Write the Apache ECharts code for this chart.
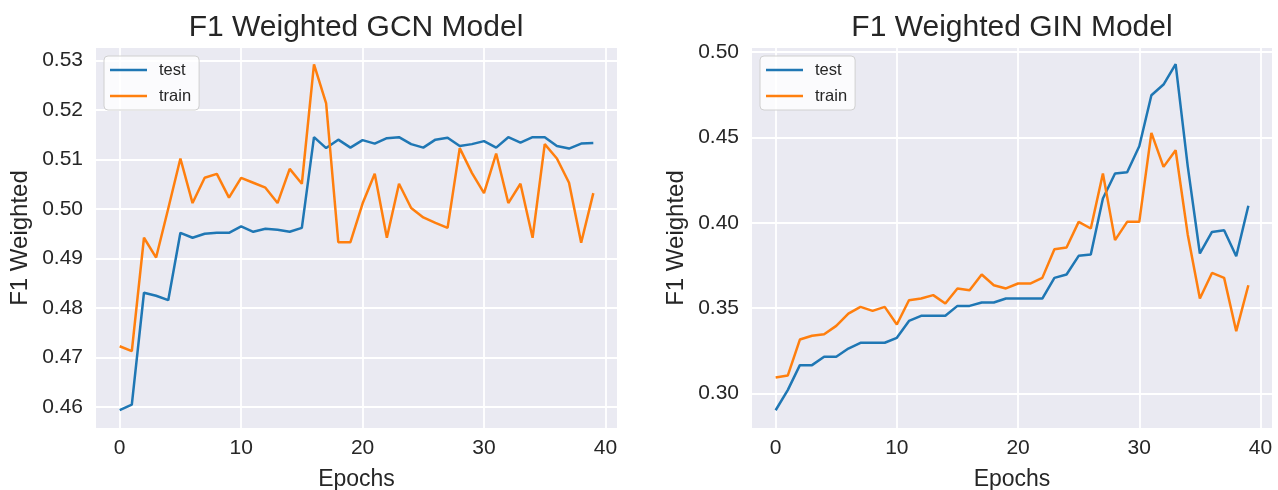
<!DOCTYPE html>
<html>
<head>
<meta charset="utf-8">
<script src="https://cdn.jsdelivr.net/npm/echarts@6/dist/echarts.min.js"></script>
<style>
html,body{margin:0;padding:0;background:#fff;}
#chart{width:1278px;height:490px;}
</style>
</head>
<body>
<div id="chart"></div>
<script>
// ---- data ----
const epochs = [0,1,2,3,4,5,6,7,8,9,10,11,12,13,14,15,16,17,18,19,20,21,22,23,24,25,26,27,28,29,30,31,32,33,34,35,36,37,38,39];

const gcnTest = [0.4594,0.4605,0.4831,0.4825,0.4816,0.4952,0.4942,0.4950,0.4952,0.4952,
                 0.4965,0.4954,0.4960,0.4958,0.4954,0.4962,0.5145,0.5123,0.5140,0.5124,
                 0.5139,0.5132,0.5143,0.5145,0.5131,0.5124,0.5140,0.5144,0.5127,0.5131,
                 0.5137,0.5124,0.5145,0.5134,0.5145,0.5145,0.5127,0.5122,0.5132,0.5133];
const gcnTrain = [0.4723,0.4713,0.4942,0.4902,0.5001,0.5102,0.5012,0.5063,0.5071,0.5023,
                  0.5063,0.5053,0.5043,0.5012,0.5081,0.5051,0.5292,0.5213,0.4933,0.4933,
                  0.5011,0.5071,0.4942,0.5051,0.5002,0.4983,0.4972,0.4962,0.5123,0.5073,
                  0.5032,0.5112,0.5012,0.5051,0.4942,0.5131,0.5102,0.5053,0.4932,0.5032];

const ginTest = [0.2902,0.3020,0.3166,0.3166,0.3215,0.3215,0.3263,0.3297,0.3297,0.3297,
                 0.3326,0.3425,0.3455,0.3455,0.3455,0.3513,0.3513,0.3533,0.3533,0.3556,
                 0.3556,0.3556,0.3556,0.3677,0.3697,0.3806,0.3814,0.4142,0.4288,0.4296,
                 0.4448,0.4746,0.4809,0.4928,0.4330,0.3820,0.3946,0.3956,0.3804,0.4099];
const ginTrain = [0.3094,0.3105,0.3316,0.3338,0.3347,0.3396,0.3468,0.3507,0.3484,0.3507,
                  0.3404,0.3546,0.3556,0.3576,0.3527,0.3615,0.3605,0.3697,0.3634,0.3615,
                  0.3644,0.3644,0.3677,0.3845,0.3855,0.4005,0.3966,0.4288,0.3898,0.4005,
                  0.4005,0.4526,0.4327,0.4424,0.3930,0.3556,0.3706,0.3677,0.3365,0.3634];

const xTicks = [0,10,20,30,40];
const gcnYTicks = [0.46,0.47,0.48,0.49,0.50,0.51,0.52,0.53];
const ginYTicks = [0.30,0.35,0.40,0.45,0.50];

const titles = ['F1 Weighted GCN Model','F1 Weighted GIN Model'];
const seriesNames = ['test','train'];
const xName = 'Epochs';
const yName = 'F1 Weighted';

// ---- chart ----
const TEXT = '#262626';
const FONT = '"Liberation Sans", Arial, sans-serif';
const pairs = (ys) => epochs.map((e, i) => [e, ys[i]]);

function xAxisOpt(gi){
  return {
    type:'value', gridIndex:gi, min:-1.95, max:40.95,
    name:xName, nameLocation:'middle', nameGap:40,
    nameTextStyle:{color:TEXT, fontSize:23, fontFamily:FONT},
    axisLine:{show:false},
    axisTick:{show:false, customValues:xTicks},
    axisLabel:{customValues:xTicks, color:TEXT, fontSize:21, fontFamily:FONT, margin:10},
    splitLine:{show:true, lineStyle:{color:'#ffffff', width:1.8}}
  };
}
function yAxisOpt(gi, min, max, ticks){
  return {
    type:'value', gridIndex:gi, min:min, max:max,
    name:yName, nameLocation:'middle', nameGap:64, nameRotate:90,
    nameTextStyle:{color:TEXT, fontSize:24, fontFamily:FONT},
    axisLine:{show:false},
    axisTick:{show:false, customValues:ticks},
    axisLabel:{customValues:ticks, color:TEXT, fontSize:21, fontFamily:FONT, margin:13,
               formatter:(v)=>v.toFixed(2)},
    splitLine:{show:true, lineStyle:{color:'#ffffff', width:1.8}}
  };
}
function legendOpt(left){
  return {
    orient:'vertical', left:left, top:56,
    data:seriesNames,
    icon:'path://M0,0h37v2.4h-37z',
    itemWidth:37, itemHeight:2.4, itemGap:8,
    padding:[5,8,5,6],
    backgroundColor:'rgba(255,255,255,0.8)',
    borderColor:'#d0d0d0', borderWidth:1, borderRadius:4,
    textStyle:{color:TEXT, fontSize:16.5, fontFamily:FONT, lineHeight:18, padding:[0,0,0,7]}
  };
}
function lineSeries(name, data, color, xi){
  return {
    type:'line', name:name, xAxisIndex:xi, yAxisIndex:xi,
    data:pairs(data), showSymbol:false, symbol:'none',
    lineStyle:{color:color, width:2.5}, itemStyle:{color:color},
    z:3
  };
}

const chart = echarts.init(document.getElementById('chart'), null, {renderer:'canvas'});
chart.setOption({
  animation:false,
  backgroundColor:'#ffffff',
  textStyle:{fontFamily:FONT},
  grid:[
    {left:96, top:48, width:521, height:380, show:true, backgroundColor:'#EAEAF2', borderWidth:0,
     containLabel:false, outerBoundsMode:'none'},
    {left:752, top:48, width:520, height:380, show:true, backgroundColor:'#EAEAF2', borderWidth:0,
     containLabel:false, outerBoundsMode:'none'}
  ],
  xAxis:[xAxisOpt(0), xAxisOpt(1)],
  yAxis:[yAxisOpt(0, 0.4558, 0.5325, gcnYTicks), yAxisOpt(1, 0.2798, 0.5023, ginYTicks)],
  legend:[legendOpt(104), legendOpt(760)],
  graphic:[
    {type:'text', x:356, y:28, style:{text:titles[0], fill:TEXT, fontSize:30, fontFamily:FONT, textAlign:'center', textVerticalAlign:'middle'}},
    {type:'text', x:1012, y:28, style:{text:titles[1], fill:TEXT, fontSize:30, fontFamily:FONT, textAlign:'center', textVerticalAlign:'middle'}}
  ],
  series:[
    lineSeries(seriesNames[0], gcnTest, '#1f77b4', 0),
    lineSeries(seriesNames[1], gcnTrain, '#ff7f0e', 0),
    lineSeries(seriesNames[0], ginTest, '#1f77b4', 1),
    lineSeries(seriesNames[1], ginTrain, '#ff7f0e', 1)
  ]
});
</script>
</body>
</html>
